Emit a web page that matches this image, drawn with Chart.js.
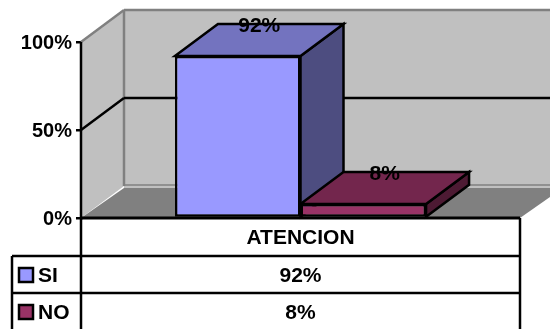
<!DOCTYPE html>
<html>
<head>
<meta charset="utf-8">
<title>ATENCION</title>
<script src="https://cdn.jsdelivr.net/npm/chart.js@4/dist/chart.umd.min.js"></script>
<style>
  html, body { margin: 0; padding: 0; background: #fff; overflow: hidden; }
  canvas { display: block; }
</style>
</head>
<body>
<canvas id="bar-chart" width="550" height="329"></canvas>
<script>
const categories = ['ATENCION'];
const seriesNames = ['SI', 'NO'];
const siValues = [92];
const noValues = [8];
const yTicks = [0, 50, 100];

const frontColors = ['#9999ff', '#993366'];
const topColors = ['#7373bf', '#73264d'];
const sideColors = ['#4d4d80', '#4d1a33'];

const FONT = 'bold 21px "Liberation Sans", Arial, sans-serif';
const DEPTH_X = 43;
const DEPTH_Y = -32;

function poly(ctx, pts, fill, stroke, width) {
  ctx.beginPath();
  pts.forEach((p, i) => i ? ctx.lineTo(p[0], p[1]) : ctx.moveTo(p[0], p[1]));
  ctx.closePath();
  if (fill) { ctx.fillStyle = fill; ctx.fill(); }
  if (stroke) { ctx.strokeStyle = stroke; ctx.lineWidth = width; ctx.stroke(); }
}

function line(ctx, x1, y1, x2, y2, color, width) {
  ctx.beginPath();
  ctx.moveTo(x1, y1);
  ctx.lineTo(x2, y2);
  ctx.strokeStyle = color;
  ctx.lineWidth = width;
  ctx.stroke();
}

// walls, floor and the extruded faces of the bars
const box3d = {
  id: 'box3d',
  beforeDatasetsDraw(chart) {
    const { ctx, chartArea: a, scales: { y } } = chart;
    const dx = DEPTH_X, dy = DEPTH_Y;
    const top = y.getPixelForValue(100), base = y.getPixelForValue(0);

    ctx.save();
    ctx.lineJoin = 'miter';
    poly(ctx, [[a.left, top], [a.left + dx, top + dy], [a.left + dx, base + dy], [a.left, base]], '#c0c0c0');
    poly(ctx, [[a.left + dx, top + dy], [a.right + dx, top + dy], [a.right + dx, base + dy + 3], [a.left + dx, base + dy + 3]], '#c0c0c0');
    poly(ctx, [[a.left, base], [a.left + dx, base + dy + 2], [a.right + dx, base + dy + 2], [a.right, base]], '#808080');

    line(ctx, a.left, top, a.left + dx, top + dy, '#808080', 2.5);
    line(ctx, a.left + dx, top + dy, a.right + dx, top + dy, '#808080', 2.5);
    line(ctx, a.left + dx, top + dy, a.left + dx, base + dy, '#808080', 2.5);
    line(ctx, a.left + dx, base + dy - 1, a.right + dx, base + dy - 1, '#808080', 1.5);

    // inner gridlines follow the wall round the corner
    yTicks.filter(v => v > 0 && v < 100).forEach(v => {
      const py = y.getPixelForValue(v);
      line(ctx, a.left, py, a.left + dx, py + dy, '#000', 2.5);
      line(ctx, a.left + dx, py + dy, a.right + dx, py + dy, '#000', 2.5);
    });

    chart.data.datasets.forEach((ds, i) => {
      const bar = chart.getDatasetMeta(i).data[0];
      const l = bar.x - bar.width / 2, r = bar.x + bar.width / 2;
      poly(ctx, [[r, bar.y], [r + dx, bar.y + dy], [r + dx, bar.base + dy], [r, bar.base]], sideColors[i], '#000', 2.5);
      poly(ctx, [[l, bar.y], [l + dx, bar.y + dy], [r + dx, bar.y + dy], [r, bar.y]], topColors[i], '#000', 2.5);
    });
    ctx.restore();
  },
  afterDatasetsDraw(chart) {
    const { ctx } = chart;
    ctx.save();
    ctx.font = FONT;
    ctx.fillStyle = '#000';
    ctx.textAlign = 'center';
    ctx.textBaseline = 'middle';
    chart.data.datasets.forEach((ds, i) => {
      const bar = chart.getDatasetMeta(i).data[0];
      ctx.fillText(ds.data[0] + '%', bar.x + DEPTH_X / 2, bar.y + DEPTH_Y + 2);
    });
    ctx.restore();
  }
};

// data table under the plot, doubles as the legend
const dataTable = {
  id: 'dataTable',
  afterDraw(chart) {
    const { ctx, chartArea: a, height } = chart;
    const base = chart.scales.y.getPixelForValue(0);
    const tableLeft = 12, keyX = 19, keySize = 14;
    const rows = [256, 293];
    const cx = (a.left + a.right) / 2;

    ctx.save();
    line(ctx, a.left, base, a.right, base, '#000', 3);
    line(ctx, a.left, a.top, a.left, height, '#000', 2.5);
    line(ctx, a.right, base, a.right, height, '#000', 2.5);
    line(ctx, tableLeft, rows[0], tableLeft, height, '#000', 2.5);
    rows.forEach(r => line(ctx, tableLeft, r, a.right, r, '#000', 2.5));

    ctx.font = FONT;
    ctx.fillStyle = '#000';
    ctx.textBaseline = 'middle';
    ctx.textAlign = 'center';
    ctx.fillText(categories[0], cx, 238);

    chart.data.datasets.forEach((ds, i) => {
      const rowMid = rows[i] + 20;
      ctx.textAlign = 'center';
      ctx.fillStyle = '#000';
      ctx.fillText(ds.data[0] + '%', cx, rowMid);
      ctx.textAlign = 'left';
      ctx.fillText(ds.label, 38, rowMid);
      ctx.fillStyle = frontColors[i];
      ctx.strokeStyle = '#000';
      ctx.lineWidth = 2.5;
      ctx.fillRect(keyX, rowMid - 1 - keySize / 2, keySize, keySize);
      ctx.strokeRect(keyX, rowMid - 1 - keySize / 2, keySize, keySize);
    });
    ctx.restore();
  }
};

new Chart(document.getElementById('bar-chart'), {
  type: 'bar',
  data: {
    labels: categories,
    datasets: [
      { label: seriesNames[0], data: siValues, backgroundColor: frontColors[0] },
      { label: seriesNames[1], data: noValues, backgroundColor: frontColors[1] }
    ]
  },
  options: {
    responsive: false,
    animation: false,
    layout: { padding: { top: 42, right: 30, bottom: 111, left: 0 } },
    datasets: {
      bar: {
        categoryPercentage: 0.572,
        barPercentage: 1,
        borderColor: '#000',
        borderWidth: 2.5,
        borderSkipped: false
      }
    },
    plugins: { legend: { display: false }, title: { display: false }, tooltip: { enabled: false } },
    scales: {
      x: { display: false },
      y: {
        min: 0,
        max: 100,
        afterFit(scale) { scale.width = 81; },
        afterBuildTicks(scale) { scale.ticks = yTicks.map(v => ({ value: v })); },
        border: { color: '#000', width: 2.5 },
        grid: { drawOnChartArea: false, drawTicks: true, tickLength: 5, color: '#000', lineWidth: 2.5 },
        ticks: {
          color: '#000',
          padding: 4,
          labelOffset: 1,
          font: { family: '"Liberation Sans", Arial, sans-serif', size: 20, weight: 'bold' },
          callback: v => v + '%'
        }
      }
    }
  },
  plugins: [box3d, dataTable]
});
</script>
</body>
</html>
